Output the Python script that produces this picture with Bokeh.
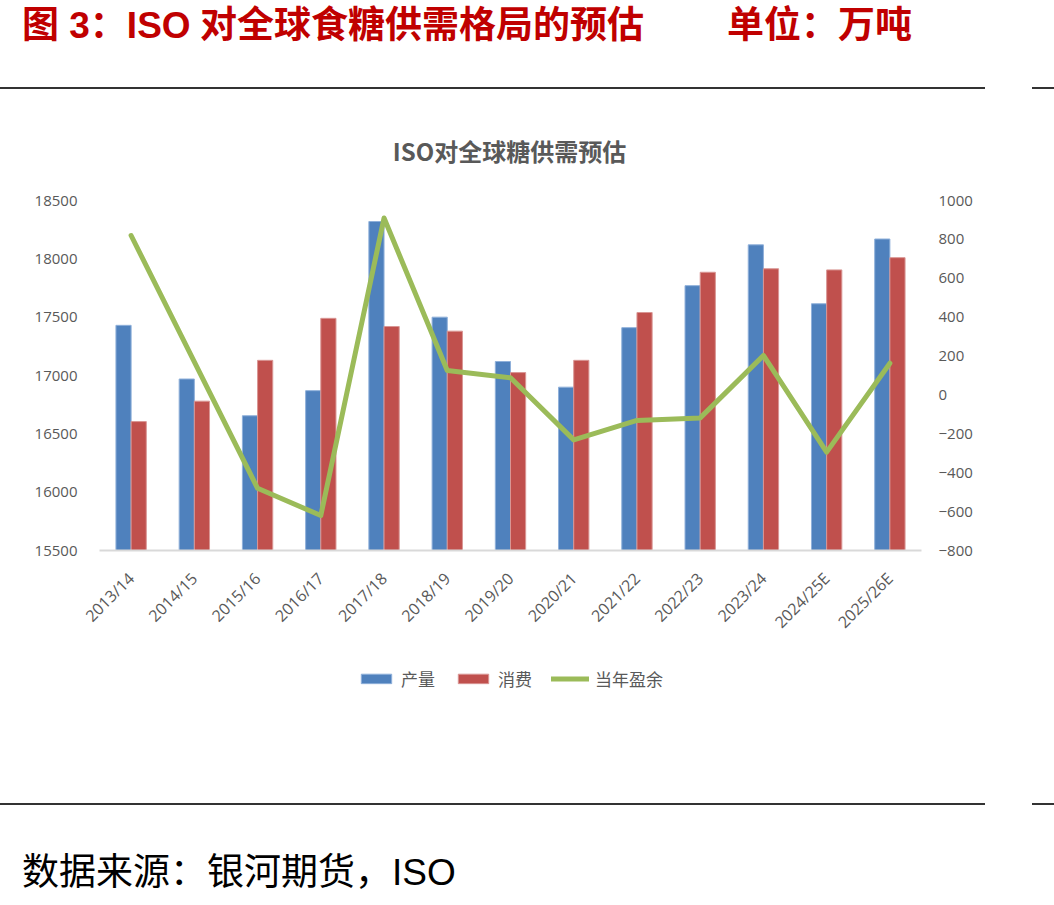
import math
from bokeh.plotting import figure
from bokeh.layouts import column
from bokeh.models import (Range1d, LinearAxis, FixedTicker, FactorRange, Legend, LegendItem,
                          ColumnDataSource, Div)
from bokeh.transform import dodge
from bokeh.embed import file_html
from bokeh.resources import INLINE

categories = ["2013/14", "2014/15", "2015/16", "2016/17", "2017/18", "2018/19", "2019/20",
              "2020/21", "2021/22", "2022/23", "2023/24", "2024/25E", "2025/26E"]
production = [17430, 16970, 16655, 16870, 18320, 17500, 17120, 16900, 17410, 17770, 18120, 17615, 18170]
consumption = [16605, 16780, 17130, 17490, 17420, 17380, 17025, 17130, 17540, 17885, 17915, 17905, 18010]
surplus = [820, 170, -480, -620, 910, 126, 88, -231, -131, -118, 203, -294, 163]

left_ticks = [15500, 16000, 16500, 17000, 17500, 18000, 18500]
right_ticks = [-800, -600, -400, -200, 0, 200, 400, 600, 800, 1000]

title_parts = ["图 3：ISO", "对全球食糖供需格局的预估", "单位：万吨"]
chart_title = "ISO对全球糖供需预估"
source_text = "数据来源：银河期货，ISO"
series_names = ["产量", "消费", "当年盈余"]

BLUE = "#4f81bd"
RED = "#c0504d"
GREEN = "#9bbb59"
BLUE_EDGE = "#8fb0da"
RED_EDGE = "#d99694"
GRAY = "#595959"
TITLE_RED = "#c00000"
RULE = "#333333"
CJK = "Noto Sans CJK SC"
LATIN = "Liberation Sans"
NUM = "Open Sans"
W = 1054
BL, BR = 99, 133  # left / right borders of the plot frames


def span(text, left, cy, size, color, bold=False, extra="", latin_first=True):
    weight = "bold" if bold else "normal"
    if latin_first:
        fam = f"'{LATIN}','{CJK}',sans-serif"
        top = cy - 0.5665 * size
    else:
        fam = f"'{CJK}',sans-serif"
        top = cy - 0.6 * size
    return (f'<div style="position:absolute;left:{left}px;top:{top:.1f}px;font-size:{size}px;'
            f'font-family:{fam};line-height:1.2;white-space:nowrap;'
            f'font-weight:{weight};color:{color};{extra}">{text}</div>')


def rule(left, width, top):
    return (f'<div style="position:absolute;left:{left}px;top:{top}px;width:{width}px;'
            f'height:1.5px;background:{RULE};"></div>')


def strip(h, inner):
    html = (f'<div style="position:relative;width:{W}px;height:{h}px;margin:0;padding:0;">'
            + inner + '</div>')
    return Div(text=html, width=W, height=h, margin=0, styles={"margin": "0", "padding": "0"})


# ---------- header: canvas y 0..190 ----------
HH = 190
head = strip(HH,
             span(title_parts[0], 22, 25, 37, TITLE_RED, True)
             + span(title_parts[1], 200, 25, 37, TITLE_RED, True)
             + span(title_parts[2], 727, 25, 37, TITLE_RED, True)
             + rule(0, 985, 87.25) + rule(1032, 22, 87.25)
             + span(chart_title, 0, 151, 24, GRAY, True, "width:1019px;text-align:center;",
                    latin_first=False))

# ---------- main chart: canvas y 190..650 ----------
MH = 460
p = figure(width=W, height=MH, x_range=FactorRange(*categories),
           y_range=Range1d(15500, 18500), output_backend="svg", toolbar_location=None, title=None,
           min_border_left=BL, min_border_right=BR, min_border_top=10, min_border_bottom=100)
p.outline_line_color = None
p.xgrid.grid_line_color = None
p.ygrid.grid_line_color = None
p.background_fill_color = "white"
p.border_fill_color = "white"
p.extra_y_ranges = {"r": Range1d(-800, 1000)}

cds = ColumnDataSource(dict(cat=categories, prod=production, cons=consumption, sur=surplus))

p.vbar(x=dodge("cat", -0.12, range=p.x_range), top="prod", width=0.24, source=cds,
       fill_color=BLUE, line_color=BLUE_EDGE, line_width=1)
p.vbar(x=dodge("cat", 0.12, range=p.x_range), top="cons", width=0.24, source=cds,
       fill_color=RED, line_color=RED_EDGE, line_width=1)
p.line(x="cat", y="sur", source=cds, y_range_name="r", line_color=GREEN, line_width=5,
       line_join="round", line_cap="round")

xa = p.xaxis[0]
xa.axis_line_color = "#d9d9d9"
xa.axis_line_width = 2
xa.major_tick_line_color = None
xa.minor_tick_line_color = None
xa.major_label_orientation = math.pi / 4
xa.major_label_text_font = NUM
xa.major_label_text_font_size = "16px"
xa.major_label_text_color = GRAY
xa.major_label_standoff = 19

ya = p.yaxis[0]
ya.ticker = FixedTicker(ticks=left_ticks)
ya.axis_line_color = None
ya.major_tick_line_color = None
ya.minor_tick_line_color = None
ya.major_label_text_font = NUM
ya.major_label_text_font_size = "15px"
ya.major_label_text_color = GRAY
ya.major_label_standoff = 16

ra = LinearAxis(y_range_name="r", ticker=FixedTicker(ticks=right_ticks))
ra.axis_line_color = None
ra.major_tick_line_color = None
ra.minor_tick_line_color = None
ra.major_label_text_font = NUM
ra.major_label_text_font_size = "15px"
ra.major_label_text_color = GRAY
ra.major_label_standoff = 11
p.add_layout(ra, "right")

# ---------- legend strip: canvas y 650..706 ----------
# proxy renderers (one point each, outside this strip's visible range) give the legend its keys
LH = 56
lf = figure(width=W, height=LH, x_range=Range1d(0, 1), y_range=Range1d(0, 1),
            output_backend="svg", toolbar_location=None, title=None,
            x_axis_location=None, y_axis_location=None,
            min_border_left=BL, min_border_right=BR, min_border_top=0, min_border_bottom=0)
lf.outline_line_color = None
lf.xgrid.visible = False
lf.ygrid.visible = False
lf.background_fill_color = "white"
lf.border_fill_color = "white"
k1 = lf.vbar(x=[-5], top=[-5], bottom=[-6], width=0.1, fill_color=BLUE, line_color=BLUE_EDGE,
             line_width=1)
k2 = lf.vbar(x=[-5], top=[-5], bottom=[-6], width=0.1, fill_color=RED, line_color=RED_EDGE,
             line_width=1)
k3 = lf.line(x=[-6, -5], y=[-5, -5], line_color=GREEN, line_width=5, line_cap="round")
legend = Legend(items=[LegendItem(label=series_names[0], renderers=[k1]),
                       LegendItem(label=series_names[1], renderers=[k2]),
                       LegendItem(label=series_names[2], renderers=[k3])],
                orientation="horizontal", location="center",
                glyph_width=38, glyph_height=12, label_standoff=6, spacing=19,
                padding=0, margin=0, border_line_color=None, background_fill_alpha=0,
                label_text_font=CJK, label_text_font_size="17px", label_text_color=GRAY)
lf.add_layout(legend)

# ---------- footer: canvas y 706..905 ----------
TOP_F = 190 + MH + LH
FH = 905 - TOP_F
foot = strip(FH,
             rule(0, 985, 803.25 - TOP_F) + rule(1032, 22, 803.25 - TOP_F)
             + span(source_text, 22, 872 - TOP_F, 37, "black"))

layout = column(head, p, lf, foot, spacing=0)
open("out.html", "w").write(file_html(layout, INLINE))
